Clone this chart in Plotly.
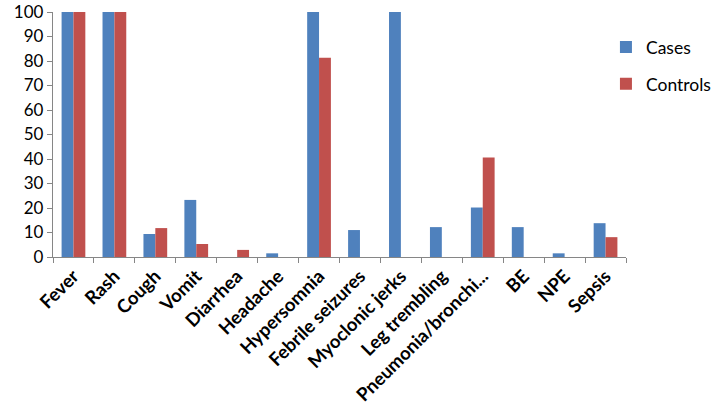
import plotly.graph_objects as go

categories = ["Fever", "Rash", "Cough", "Vomit", "Diarrhea", "Headache", "Hypersomnia",
              "Febrile seizures", "Myoclonic jerks", "Leg trembling", "Pneumonia/bronchi...",
              "BE", "NPE", "Sepsis"]
cases = [100, 100, 9.4, 23.3, 0, 1.5, 100, 11.0, 100, 12.2, 20.2, 12.2, 1.5, 13.8]
controls = [100, 100, 11.8, 5.3, 2.9, 0, 81.3, 0, 0, 0, 40.6, 0, 0, 8.1]
y_ticks = list(range(0, 101, 10))

FONT = "Lato"
AXIS_COL = "#868686"

fig = go.Figure()
fig.add_trace(go.Bar(x=categories, y=cases, name="Cases", marker_color="#4F81BD",
                     marker_line_width=0, legendgroup="a"))
fig.add_trace(go.Bar(x=categories, y=controls, name="Controls", marker_color="#C0504D",
                     marker_line_width=0, legendgroup="b"))

fig.update_layout(
    width=717, height=419,
    margin=dict(l=53, r=91, t=12, b=162, autoexpand=False),
    paper_bgcolor="white", plot_bgcolor="white",
    barmode="group", bargap=0.42, bargroupgap=0,
    font=dict(family=FONT, size=17, color="black"),
    legend=dict(x=0.965, y=0.93, xref="paper", yref="paper", xanchor="left", yanchor="top",
                font=dict(family=FONT, size=17.5), itemwidth=30, tracegroupgap=11,
                bgcolor="rgba(0,0,0,0)"),
    showlegend=True,
)
fig.update_xaxes(
    type="category", showline=True, linecolor=AXIS_COL, linewidth=1.3,
    ticks="outside", tickson="boundaries", ticklen=5, tickcolor=AXIS_COL,
    tickangle=-45, tickfont=dict(family=FONT, size=18.5, color="black", weight="bold"),
    showgrid=False, zeroline=False, automargin=False,
)
fig.update_yaxes(
    range=[0, 100], tickvals=y_ticks, showline=True, linecolor=AXIS_COL, linewidth=1.3,
    ticks="outside", ticklen=5, tickcolor=AXIS_COL, showgrid=False, zeroline=False,
    tickfont=dict(family=FONT, size=17, color="black"), automargin=False,
)

fig.write_html("out.html", config={"displayModeBar": False},
               post_script="document.body.style.margin='0';document.body.style.overflow='hidden';")
